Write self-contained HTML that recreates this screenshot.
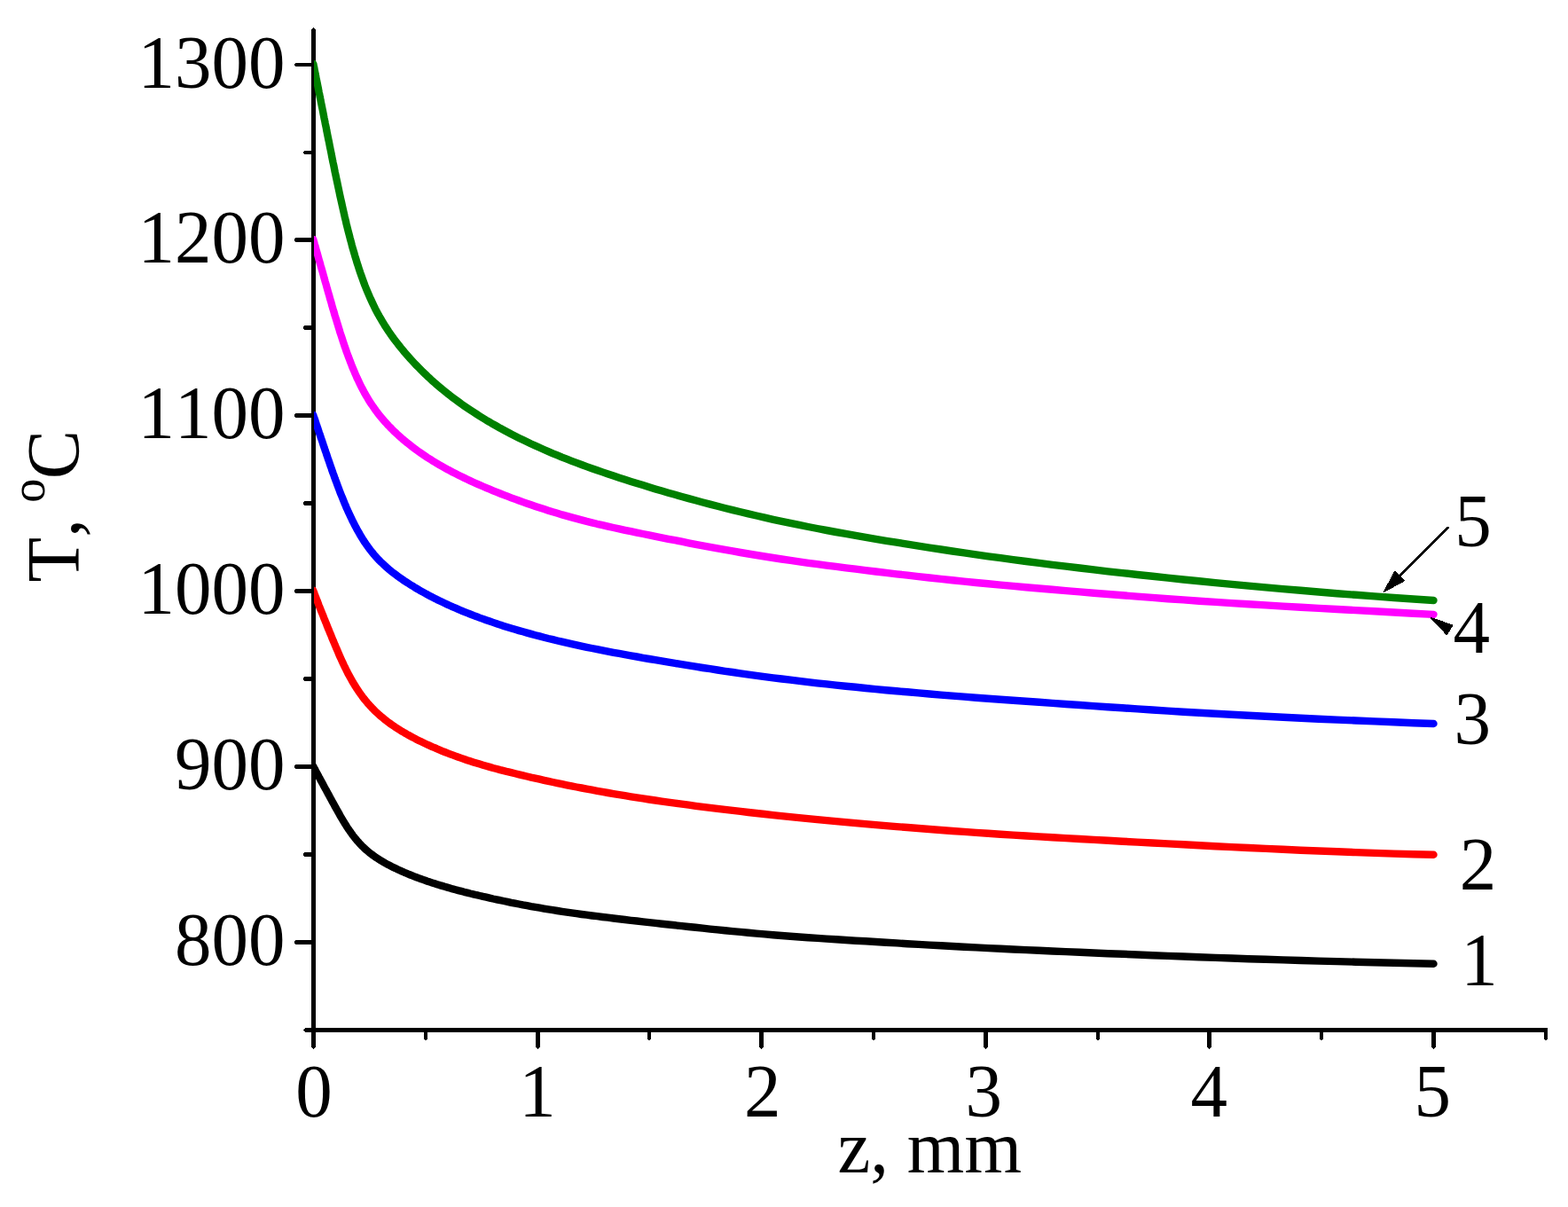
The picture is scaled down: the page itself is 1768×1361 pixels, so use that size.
<!DOCTYPE html>
<html lang="en"><head><meta charset="utf-8"><title>T(z) temperature profiles</title>
<style>
html,body{margin:0;padding:0;background:#fff;}
body{width:1768px;height:1361px;overflow:hidden;}
svg{display:block;}
text{font-family:"Liberation Serif","Times New Roman",serif;font-size:83px;fill:#000;font-kerning:none;font-variant-ligatures:none;}
</style></head><body>
<svg width="1768" height="1361" viewBox="0 0 1768 1361">
<rect width="1768" height="1361" fill="#fff"/>
<defs><clipPath id="plot"><rect x="354" y="0" width="1768" height="1361"/></clipPath></defs>

<g fill="#000" shape-rendering="crispEdges">
<polygon points="351,33.5 353.5,31 356,33.5 356,1181 353.5,1183.2 351,1181"/>
<polygon points="344,1159 1745,1159 1745,1164 344,1164 341.8,1161.5"/>
<polygon points="351,1060 333.5,1060 331.8,1062.5 333.5,1065 351,1065"/>
<polygon points="351,961 343.5,961 341.8,963.5 343.5,966 351,966"/>
<polygon points="351,862 333.5,862 331.8,864.5 333.5,867 351,867"/>
<polygon points="351,763 343.5,763 341.8,765.5 343.5,768 351,768"/>
<polygon points="351,664 333.5,664 331.8,666.5 333.5,669 351,669"/>
<polygon points="351,565 343.5,565 341.8,567.5 343.5,570 351,570"/>
<polygon points="351,466 333.5,466 331.8,468.5 333.5,471 351,471"/>
<polygon points="351,367 343.5,367 341.8,369.5 343.5,372 351,372"/>
<polygon points="351,268 333.5,268 331.8,270.5 333.5,273 351,273"/>
<polygon points="351,170 343.5,170 341.8,172.0 343.5,174 351,174"/>
<polygon points="351,71 333.5,71 331.8,73.0 333.5,75 351,75"/>
<polygon points="478,1164 482,1164 482,1172 480,1173.2 478,1172"/>
<polygon points="604,1164 609,1164 609,1181 606.5,1183.2 604,1181"/>
<polygon points="730,1164 734,1164 734,1172 732,1173.2 730,1172"/>
<polygon points="856,1164 861,1164 861,1181 858.5,1183.2 856,1181"/>
<polygon points="983,1164 987,1164 987,1172 985,1173.2 983,1172"/>
<polygon points="1109,1164 1114,1164 1114,1181 1111.5,1183.2 1109,1181"/>
<polygon points="1236,1164 1240,1164 1240,1172 1238,1173.2 1236,1172"/>
<polygon points="1361,1164 1366,1164 1366,1181 1363.5,1183.2 1361,1181"/>
<polygon points="1488,1164 1492,1164 1492,1172 1490,1173.2 1488,1172"/>
<polygon points="1614,1164 1619,1164 1619,1181 1616.5,1183.2 1614,1181"/>
<polygon points="1741,1164 1745,1164 1745,1172 1743,1173.2 1741,1172"/>
</g>
<g fill="none" stroke-width="8.4" stroke-linecap="round" stroke-linejoin="round" clip-path="url(#plot)">
<path stroke="#000000" d="M352.97,863.60 L353.5,864.6 L353.8,865.2 L354.2,865.8 L354.5,866.5 L354.8,867.1 L355.2,867.7 L355.5,868.4 L355.9,869.1 L356.2,869.8 L356.6,870.5 L357.0,871.2 L357.4,871.9 L357.8,872.6 L358.2,873.3 L358.6,874.1 L359.0,874.9 L359.4,875.6 L359.8,876.4 L360.3,877.2 L360.7,878.1 L361.2,878.9 L361.6,879.8 L362.1,880.6 L362.6,881.5 L363.1,882.4 L363.6,883.3 L364.1,884.2 L364.6,885.2 L365.1,886.1 L365.6,887.1 L366.2,888.1 L366.7,889.1 L367.3,890.1 L367.9,891.2 L368.4,892.2 L369.0,893.3 L369.6,894.4 L370.2,895.6 L370.9,896.7 L371.5,897.9 L372.1,899.0 L372.8,900.3 L373.5,901.5 L374.1,902.7 L374.8,904.0 L375.5,905.3 L376.3,906.6 L377.0,907.9 L377.7,909.3 L378.5,910.7 L379.3,912.1 L380.1,913.5 L380.9,914.9 L381.7,916.3 L382.5,917.8 L383.3,919.3 L384.2,920.8 L385.1,922.3 L386.0,923.8 L386.9,925.3 L387.8,926.8 L388.7,928.4 L389.7,929.9 L390.6,931.4 L391.6,933.0 L392.6,934.5 L393.7,936.0 L394.7,937.5 L395.8,939.0 L396.8,940.5 L397.9,942.0 L399.1,943.5 L400.2,944.9 L401.4,946.3 L402.5,947.8 L403.8,949.1 L405.0,950.5 L406.2,951.8 L407.5,953.2 L408.8,954.5 L410.1,955.7 L411.4,957.0 L412.8,958.2 L414.2,959.4 L415.6,960.6 L417.0,961.8 L418.5,962.9 L420.0,964.0 L421.5,965.1 L423.0,966.2 L424.6,967.3 L426.2,968.3 L427.8,969.4 L429.5,970.4 L431.2,971.4 L432.9,972.4 L434.6,973.4 L436.4,974.4 L438.2,975.3 L440.1,976.3 L441.9,977.2 L443.8,978.2 L445.8,979.1 L447.8,980.1 L449.8,981.0 L451.8,981.9 L453.9,982.8 L456.0,983.8 L458.2,984.7 L460.4,985.6 L462.6,986.5 L464.9,987.4 L467.2,988.3 L469.6,989.2 L472.0,990.1 L474.4,991.0 L476.9,991.9 L479.5,992.8 L482.0,993.7 L484.7,994.6 L487.3,995.4 L490.1,996.3 L492.8,997.2 L495.7,998.1 L498.5,998.9 L501.5,999.8 L504.4,1000.6 L507.5,1001.5 L510.5,1002.4 L513.7,1003.2 L516.9,1004.1 L520.1,1004.9 L523.4,1005.8 L526.8,1006.6 L530.2,1007.5 L533.7,1008.3 L537.3,1009.2 L540.9,1010.0 L544.6,1010.9 L548.3,1011.7 L552.2,1012.6 L556.0,1013.5 L560.0,1014.3 L564.0,1015.2 L568.1,1016.0 L572.3,1016.9 L576.5,1017.8 L580.9,1018.6 L585.3,1019.5 L589.7,1020.4 L594.3,1021.2 L598.9,1022.1 L603.7,1022.9 L608.5,1023.7 L613.4,1024.6 L618.3,1025.4 L623.4,1026.2 L628.6,1027.0 L633.8,1027.8 L639.2,1028.6 L644.6,1029.4 L650.2,1030.2 L655.8,1031.0 L661.5,1031.7 L667.4,1032.5 L673.3,1033.2 L679.4,1034.0 L685.6,1034.7 L691.8,1035.5 L698.2,1036.2 L704.7,1037.0 L711.4,1037.8 L718.1,1038.5 L725.0,1039.3 L731.9,1040.1 L739.0,1040.9 L746.3,1041.7 L753.6,1042.5 L761.1,1043.3 L768.8,1044.2 L776.5,1045.0 L784.4,1045.8 L792.5,1046.7 L800.7,1047.6 L809.0,1048.4 L817.5,1049.3 L826.2,1050.1 L835.0,1050.9 L843.9,1051.8 L853.0,1052.6 L862.3,1053.4 L871.8,1054.2 L881.4,1055.0 L891.2,1055.7 L901.1,1056.5 L911.3,1057.2 L921.6,1057.9 L932.1,1058.6 L942.8,1059.3 L953.7,1060.0 L964.8,1060.7 L976.1,1061.3 L987.5,1062.0 L999.2,1062.7 L1011.1,1063.4 L1023.2,1064.2 L1035.6,1064.9 L1048.1,1065.6 L1060.9,1066.3 L1073.9,1067.0 L1087.1,1067.7 L1100.6,1068.4 L1114.3,1069.1 L1128.3,1069.8 L1142.5,1070.5 L1157.0,1071.1 L1171.7,1071.8 L1186.7,1072.5 L1202.0,1073.1 L1217.5,1073.8 L1233.3,1074.5 L1249.4,1075.2 L1265.8,1075.8 L1282.5,1076.5 L1299.5,1077.2 L1316.8,1077.9 L1334.3,1078.5 L1352.3,1079.2 L1370.5,1079.9 L1389.0,1080.5 L1407.9,1081.2 L1427.2,1081.8 L1446.7,1082.4 L1466.7,1083.0 L1486.9,1083.6 L1507.6,1084.1 L1528.6,1084.7 L1550.0,1085.2 L1571.8,1085.7 L1593.9,1086.2 L1616.5,1086.8"/>
<path stroke="#ff0000" d="M353.12,665.70 L353.5,666.7 L353.8,667.6 L354.2,668.4 L354.5,669.3 L354.8,670.2 L355.2,671.1 L355.5,672.0 L355.9,673.0 L356.2,673.9 L356.6,674.9 L357.0,675.9 L357.4,676.8 L357.8,677.9 L358.2,678.9 L358.6,679.9 L359.0,681.0 L359.4,682.1 L359.8,683.2 L360.3,684.3 L360.7,685.4 L361.2,686.5 L361.6,687.7 L362.1,688.9 L362.6,690.1 L363.1,691.3 L363.6,692.5 L364.1,693.8 L364.6,695.1 L365.1,696.4 L365.6,697.7 L366.2,699.0 L366.7,700.4 L367.3,701.8 L367.9,703.2 L368.4,704.6 L369.0,706.1 L369.6,707.6 L370.2,709.1 L370.9,710.6 L371.5,712.2 L372.1,713.7 L372.8,715.3 L373.5,717.0 L374.1,718.6 L374.8,720.3 L375.5,722.0 L376.3,723.8 L377.0,725.5 L377.7,727.3 L378.5,729.1 L379.3,731.0 L380.1,732.8 L380.9,734.7 L381.7,736.6 L382.5,738.5 L383.3,740.4 L384.2,742.3 L385.1,744.2 L386.0,746.2 L386.9,748.1 L387.8,750.1 L388.7,752.0 L389.7,753.9 L390.6,755.9 L391.6,757.8 L392.6,759.8 L393.7,761.7 L394.7,763.6 L395.8,765.5 L396.8,767.4 L397.9,769.3 L399.1,771.2 L400.2,773.1 L401.4,774.9 L402.5,776.7 L403.8,778.6 L405.0,780.4 L406.2,782.1 L407.5,783.9 L408.8,785.7 L410.1,787.4 L411.4,789.1 L412.8,790.7 L414.2,792.4 L415.6,794.0 L417.0,795.6 L418.5,797.2 L420.0,798.8 L421.5,800.3 L423.0,801.9 L424.6,803.3 L426.2,804.8 L427.8,806.3 L429.5,807.7 L431.2,809.1 L432.9,810.5 L434.6,811.9 L436.4,813.3 L438.2,814.6 L440.1,816.0 L441.9,817.3 L443.8,818.6 L445.8,819.9 L447.8,821.2 L449.8,822.5 L451.8,823.8 L453.9,825.0 L456.0,826.3 L458.2,827.5 L460.4,828.8 L462.6,830.0 L464.9,831.2 L467.2,832.4 L469.6,833.7 L472.0,834.9 L474.4,836.1 L476.9,837.3 L479.5,838.5 L482.0,839.7 L484.7,840.9 L487.3,842.1 L490.1,843.2 L492.8,844.4 L495.7,845.6 L498.5,846.8 L501.5,848.0 L504.4,849.1 L507.5,850.3 L510.5,851.4 L513.7,852.6 L516.9,853.8 L520.1,854.9 L523.4,856.0 L526.8,857.2 L530.2,858.3 L533.7,859.4 L537.3,860.5 L540.9,861.6 L544.6,862.7 L548.3,863.8 L552.2,864.9 L556.0,866.0 L560.0,867.0 L564.0,868.1 L568.1,869.1 L572.3,870.2 L576.5,871.2 L580.9,872.3 L585.3,873.4 L589.7,874.4 L594.3,875.5 L598.9,876.6 L603.7,877.6 L608.5,878.7 L613.4,879.8 L618.3,880.9 L623.4,882.0 L628.6,883.1 L633.8,884.2 L639.2,885.3 L644.6,886.4 L650.2,887.5 L655.8,888.5 L661.5,889.6 L667.4,890.7 L673.3,891.8 L679.4,892.9 L685.6,894.0 L691.8,895.1 L698.2,896.1 L704.7,897.2 L711.4,898.3 L718.1,899.4 L725.0,900.4 L731.9,901.5 L739.0,902.5 L746.3,903.6 L753.6,904.6 L761.1,905.7 L768.8,906.7 L776.5,907.7 L784.4,908.8 L792.5,909.8 L800.7,910.8 L809.0,911.9 L817.5,912.9 L826.2,913.9 L835.0,914.9 L843.9,916.0 L853.0,917.0 L862.3,918.0 L871.8,919.1 L881.4,920.1 L891.2,921.1 L901.1,922.1 L911.3,923.1 L921.6,924.1 L932.1,925.1 L942.8,926.1 L953.7,927.1 L964.8,928.1 L976.1,929.1 L987.5,930.1 L999.2,931.1 L1011.1,932.1 L1023.2,933.0 L1035.6,934.0 L1048.1,935.0 L1060.9,936.0 L1073.9,937.0 L1087.1,937.9 L1100.6,938.9 L1114.3,939.8 L1128.3,940.7 L1142.5,941.6 L1157.0,942.5 L1171.7,943.4 L1186.7,944.3 L1202.0,945.1 L1217.5,946.0 L1233.3,946.9 L1249.4,947.8 L1265.8,948.7 L1282.5,949.6 L1299.5,950.5 L1316.8,951.4 L1334.3,952.3 L1352.3,953.2 L1370.5,954.2 L1389.0,955.1 L1407.9,956.0 L1427.2,956.9 L1446.7,957.8 L1466.7,958.7 L1486.9,959.5 L1507.6,960.3 L1528.6,961.1 L1550.0,961.9 L1571.8,962.6 L1593.9,963.2 L1616.5,963.8"/>
<path stroke="#0000ff" d="M353.16,467.79 L353.5,468.8 L353.8,469.7 L354.2,470.7 L354.5,471.7 L354.8,472.7 L355.2,473.8 L355.5,474.8 L355.9,475.9 L356.2,476.9 L356.6,478.0 L357.0,479.2 L357.4,480.3 L357.8,481.5 L358.2,482.7 L358.6,483.9 L359.0,485.1 L359.4,486.3 L359.8,487.6 L360.3,488.9 L360.7,490.2 L361.2,491.6 L361.6,492.9 L362.1,494.3 L362.6,495.7 L363.1,497.2 L363.6,498.6 L364.1,500.1 L364.6,501.7 L365.1,503.2 L365.6,504.8 L366.2,506.4 L366.7,508.0 L367.3,509.6 L367.9,511.3 L368.4,513.0 L369.0,514.7 L369.6,516.5 L370.2,518.3 L370.9,520.1 L371.5,521.9 L372.1,523.8 L372.8,525.7 L373.5,527.6 L374.1,529.5 L374.8,531.5 L375.5,533.5 L376.3,535.5 L377.0,537.6 L377.7,539.6 L378.5,541.7 L379.3,543.8 L380.1,545.9 L380.9,548.1 L381.7,550.2 L382.5,552.4 L383.3,554.6 L384.2,556.8 L385.1,559.0 L386.0,561.2 L386.9,563.4 L387.8,565.6 L388.7,567.9 L389.7,570.1 L390.6,572.4 L391.6,574.6 L392.6,576.9 L393.7,579.1 L394.7,581.4 L395.8,583.6 L396.8,585.8 L397.9,588.1 L399.1,590.3 L400.2,592.5 L401.4,594.7 L402.5,596.9 L403.8,599.1 L405.0,601.2 L406.2,603.4 L407.5,605.5 L408.8,607.6 L410.1,609.6 L411.4,611.7 L412.8,613.7 L414.2,615.6 L415.6,617.6 L417.0,619.5 L418.5,621.4 L420.0,623.2 L421.5,625.1 L423.0,626.9 L424.6,628.6 L426.2,630.3 L427.8,632.0 L429.5,633.7 L431.2,635.3 L432.9,636.9 L434.6,638.5 L436.4,640.1 L438.2,641.7 L440.1,643.2 L441.9,644.7 L443.8,646.2 L445.8,647.7 L447.8,649.2 L449.8,650.6 L451.8,652.1 L453.9,653.5 L456.0,655.0 L458.2,656.4 L460.4,657.8 L462.6,659.2 L464.9,660.6 L467.2,662.1 L469.6,663.5 L472.0,664.9 L474.4,666.3 L476.9,667.7 L479.5,669.1 L482.0,670.5 L484.7,671.9 L487.3,673.3 L490.1,674.7 L492.8,676.1 L495.7,677.5 L498.5,678.8 L501.5,680.2 L504.4,681.6 L507.5,683.0 L510.5,684.4 L513.7,685.7 L516.9,687.1 L520.1,688.5 L523.4,689.8 L526.8,691.2 L530.2,692.5 L533.7,693.9 L537.3,695.2 L540.9,696.6 L544.6,697.9 L548.3,699.3 L552.2,700.6 L556.0,701.9 L560.0,703.2 L564.0,704.6 L568.1,705.9 L572.3,707.2 L576.5,708.5 L580.9,709.8 L585.3,711.1 L589.7,712.3 L594.3,713.6 L598.9,714.9 L603.7,716.2 L608.5,717.4 L613.4,718.7 L618.3,720.0 L623.4,721.2 L628.6,722.5 L633.8,723.7 L639.2,724.9 L644.6,726.1 L650.2,727.4 L655.8,728.6 L661.5,729.8 L667.4,731.0 L673.3,732.2 L679.4,733.4 L685.6,734.6 L691.8,735.8 L698.2,736.9 L704.7,738.1 L711.4,739.3 L718.1,740.5 L725.0,741.8 L731.9,743.0 L739.0,744.2 L746.3,745.4 L753.6,746.7 L761.1,747.9 L768.8,749.2 L776.5,750.4 L784.4,751.7 L792.5,753.0 L800.7,754.2 L809.0,755.5 L817.5,756.8 L826.2,758.0 L835.0,759.3 L843.9,760.6 L853.0,761.8 L862.3,763.1 L871.8,764.3 L881.4,765.5 L891.2,766.7 L901.1,767.9 L911.3,769.1 L921.6,770.3 L932.1,771.4 L942.8,772.6 L953.7,773.7 L964.8,774.8 L976.1,776.0 L987.5,777.1 L999.2,778.2 L1011.1,779.3 L1023.2,780.3 L1035.6,781.4 L1048.1,782.5 L1060.9,783.6 L1073.9,784.6 L1087.1,785.6 L1100.6,786.7 L1114.3,787.7 L1128.3,788.7 L1142.5,789.8 L1157.0,790.8 L1171.7,791.8 L1186.7,792.9 L1202.0,794.0 L1217.5,795.0 L1233.3,796.1 L1249.4,797.2 L1265.8,798.3 L1282.5,799.4 L1299.5,800.5 L1316.8,801.6 L1334.3,802.7 L1352.3,803.7 L1370.5,804.8 L1389.0,805.8 L1407.9,806.8 L1427.2,807.8 L1446.7,808.8 L1466.7,809.7 L1486.9,810.7 L1507.6,811.6 L1528.6,812.5 L1550.0,813.4 L1571.8,814.3 L1593.9,815.2 L1616.5,816.0"/>
<path stroke="#ff00ff" d="M353.22,269.87 L353.5,270.9 L353.8,272.0 L354.2,273.2 L354.5,274.4 L354.8,275.6 L355.2,276.8 L355.5,278.0 L355.9,279.3 L356.2,280.6 L356.6,281.9 L357.0,283.2 L357.4,284.6 L357.8,286.0 L358.2,287.4 L358.6,288.8 L359.0,290.3 L359.4,291.8 L359.8,293.3 L360.3,294.8 L360.7,296.4 L361.2,298.0 L361.6,299.6 L362.1,301.3 L362.6,303.0 L363.1,304.7 L363.6,306.4 L364.1,308.2 L364.6,310.0 L365.1,311.9 L365.6,313.8 L366.2,315.7 L366.7,317.6 L367.3,319.6 L367.9,321.6 L368.4,323.6 L369.0,325.7 L369.6,327.8 L370.2,330.0 L370.9,332.2 L371.5,334.4 L372.1,336.7 L372.8,339.0 L373.5,341.3 L374.1,343.7 L374.8,346.1 L375.5,348.5 L376.3,351.0 L377.0,353.5 L377.7,356.0 L378.5,358.5 L379.3,361.1 L380.1,363.7 L380.9,366.3 L381.7,369.0 L382.5,371.6 L383.3,374.3 L384.2,377.0 L385.1,379.7 L386.0,382.4 L386.9,385.2 L387.8,387.9 L388.7,390.7 L389.7,393.4 L390.6,396.2 L391.6,398.9 L392.6,401.7 L393.7,404.4 L394.7,407.2 L395.8,409.9 L396.8,412.6 L397.9,415.3 L399.1,418.0 L400.2,420.7 L401.4,423.4 L402.5,426.0 L403.8,428.6 L405.0,431.2 L406.2,433.7 L407.5,436.3 L408.8,438.8 L410.1,441.2 L411.4,443.7 L412.8,446.1 L414.2,448.4 L415.6,450.8 L417.0,453.1 L418.5,455.3 L420.0,457.5 L421.5,459.7 L423.0,461.9 L424.6,464.0 L426.2,466.1 L427.8,468.2 L429.5,470.2 L431.2,472.2 L432.9,474.2 L434.6,476.2 L436.4,478.1 L438.2,480.1 L440.1,482.0 L441.9,483.9 L443.8,485.8 L445.8,487.6 L447.8,489.5 L449.8,491.3 L451.8,493.1 L453.9,495.0 L456.0,496.8 L458.2,498.6 L460.4,500.3 L462.6,502.1 L464.9,503.9 L467.2,505.6 L469.6,507.4 L472.0,509.1 L474.4,510.8 L476.9,512.5 L479.5,514.3 L482.0,516.0 L484.7,517.6 L487.3,519.3 L490.1,521.0 L492.8,522.6 L495.7,524.3 L498.5,525.9 L501.5,527.6 L504.4,529.2 L507.5,530.8 L510.5,532.5 L513.7,534.1 L516.9,535.7 L520.1,537.3 L523.4,538.9 L526.8,540.5 L530.2,542.1 L533.7,543.7 L537.3,545.3 L540.9,546.9 L544.6,548.5 L548.3,550.1 L552.2,551.7 L556.0,553.3 L560.0,554.9 L564.0,556.5 L568.1,558.1 L572.3,559.7 L576.5,561.3 L580.9,562.9 L585.3,564.5 L589.7,566.1 L594.3,567.7 L598.9,569.3 L603.7,570.9 L608.5,572.5 L613.4,574.1 L618.3,575.7 L623.4,577.3 L628.6,578.8 L633.8,580.4 L639.2,581.9 L644.6,583.4 L650.2,584.9 L655.8,586.4 L661.5,587.9 L667.4,589.3 L673.3,590.8 L679.4,592.2 L685.6,593.6 L691.8,595.0 L698.2,596.4 L704.7,597.8 L711.4,599.2 L718.1,600.6 L725.0,602.0 L731.9,603.4 L739.0,604.9 L746.3,606.3 L753.6,607.8 L761.1,609.2 L768.8,610.7 L776.5,612.3 L784.4,613.8 L792.5,615.3 L800.7,616.8 L809.0,618.4 L817.5,619.9 L826.2,621.4 L835.0,623.0 L843.9,624.5 L853.0,626.0 L862.3,627.5 L871.8,629.0 L881.4,630.5 L891.2,631.9 L901.1,633.3 L911.3,634.8 L921.6,636.2 L932.1,637.6 L942.8,638.9 L953.7,640.3 L964.8,641.7 L976.1,643.1 L987.5,644.5 L999.2,645.9 L1011.1,647.3 L1023.2,648.7 L1035.6,650.1 L1048.1,651.5 L1060.9,652.9 L1073.9,654.3 L1087.1,655.6 L1100.6,657.0 L1114.3,658.3 L1128.3,659.6 L1142.5,660.9 L1157.0,662.2 L1171.7,663.5 L1186.7,664.8 L1202.0,666.1 L1217.5,667.4 L1233.3,668.7 L1249.4,670.0 L1265.8,671.3 L1282.5,672.6 L1299.5,673.9 L1316.8,675.2 L1334.3,676.4 L1352.3,677.7 L1370.5,678.9 L1389.0,680.1 L1407.9,681.3 L1427.2,682.4 L1446.7,683.6 L1466.7,684.7 L1486.9,685.9 L1507.6,687.0 L1528.6,688.1 L1550.0,689.3 L1571.8,690.5 L1593.9,691.7 L1616.5,692.9"/>
<path stroke="#008000" d="M353.30,71.85 L353.5,72.9 L353.8,74.5 L354.2,76.1 L354.5,77.8 L354.8,79.5 L355.2,81.2 L355.5,83.0 L355.9,84.8 L356.2,86.6 L356.6,88.5 L357.0,90.4 L357.4,92.3 L357.8,94.3 L358.2,96.3 L358.6,98.3 L359.0,100.4 L359.4,102.5 L359.8,104.6 L360.3,106.8 L360.7,109.1 L361.2,111.3 L361.6,113.6 L362.1,116.0 L362.6,118.4 L363.1,120.8 L363.6,123.3 L364.1,125.8 L364.6,128.4 L365.1,131.0 L365.6,133.6 L366.2,136.3 L366.7,139.1 L367.3,141.9 L367.9,144.7 L368.4,147.7 L369.0,150.6 L369.6,153.6 L370.2,156.7 L370.9,159.8 L371.5,163.0 L372.1,166.2 L372.8,169.5 L373.5,172.8 L374.1,176.2 L374.8,179.6 L375.5,183.1 L376.3,186.6 L377.0,190.2 L377.7,193.9 L378.5,197.5 L379.3,201.3 L380.1,205.0 L380.9,208.8 L381.7,212.7 L382.5,216.5 L383.3,220.4 L384.2,224.4 L385.1,228.3 L386.0,232.3 L386.9,236.3 L387.8,240.3 L388.7,244.4 L389.7,248.4 L390.6,252.5 L391.6,256.5 L392.6,260.5 L393.7,264.6 L394.7,268.6 L395.8,272.6 L396.8,276.6 L397.9,280.6 L399.1,284.5 L400.2,288.4 L401.4,292.3 L402.5,296.1 L403.8,299.9 L405.0,303.7 L406.2,307.4 L407.5,311.0 L408.8,314.6 L410.1,318.2 L411.4,321.7 L412.8,325.2 L414.2,328.6 L415.6,331.9 L417.0,335.2 L418.5,338.4 L420.0,341.6 L421.5,344.8 L423.0,347.9 L424.6,350.9 L426.2,353.9 L427.8,356.8 L429.5,359.7 L431.2,362.6 L432.9,365.4 L434.6,368.2 L436.4,370.9 L438.2,373.6 L440.1,376.3 L441.9,379.0 L443.8,381.6 L445.8,384.2 L447.8,386.8 L449.8,389.4 L451.8,391.9 L453.9,394.4 L456.0,397.0 L458.2,399.5 L460.4,402.0 L462.6,404.5 L464.9,407.0 L467.2,409.5 L469.6,412.0 L472.0,414.4 L474.4,416.9 L476.9,419.4 L479.5,421.8 L482.0,424.3 L484.7,426.7 L487.3,429.2 L490.1,431.6 L492.8,434.0 L495.7,436.4 L498.5,438.8 L501.5,441.2 L504.4,443.6 L507.5,446.0 L510.5,448.3 L513.7,450.7 L516.9,453.0 L520.1,455.4 L523.4,457.7 L526.8,460.0 L530.2,462.3 L533.7,464.6 L537.3,466.9 L540.9,469.2 L544.6,471.5 L548.3,473.8 L552.2,476.0 L556.0,478.3 L560.0,480.5 L564.0,482.8 L568.1,485.0 L572.3,487.2 L576.5,489.5 L580.9,491.7 L585.3,493.9 L589.7,496.1 L594.3,498.3 L598.9,500.5 L603.7,502.6 L608.5,504.8 L613.4,507.0 L618.3,509.1 L623.4,511.3 L628.6,513.4 L633.8,515.6 L639.2,517.7 L644.6,519.8 L650.2,521.9 L655.8,524.0 L661.5,526.1 L667.4,528.2 L673.3,530.3 L679.4,532.4 L685.6,534.5 L691.8,536.6 L698.2,538.7 L704.7,540.8 L711.4,542.9 L718.1,545.0 L725.0,547.1 L731.9,549.2 L739.0,551.4 L746.3,553.5 L753.6,555.7 L761.1,557.8 L768.8,560.0 L776.5,562.1 L784.4,564.3 L792.5,566.5 L800.7,568.6 L809.0,570.8 L817.5,573.0 L826.2,575.1 L835.0,577.3 L843.9,579.4 L853.0,581.5 L862.3,583.7 L871.8,585.8 L881.4,587.8 L891.2,589.9 L901.1,591.9 L911.3,594.0 L921.6,596.0 L932.1,598.0 L942.8,600.0 L953.7,601.9 L964.8,603.9 L976.1,605.9 L987.5,607.8 L999.2,609.8 L1011.1,611.7 L1023.2,613.7 L1035.6,615.6 L1048.1,617.6 L1060.9,619.5 L1073.9,621.5 L1087.1,623.4 L1100.6,625.3 L1114.3,627.3 L1128.3,629.2 L1142.5,631.1 L1157.0,633.0 L1171.7,634.9 L1186.7,636.8 L1202.0,638.7 L1217.5,640.5 L1233.3,642.4 L1249.4,644.3 L1265.8,646.1 L1282.5,648.0 L1299.5,649.8 L1316.8,651.7 L1334.3,653.5 L1352.3,655.3 L1370.5,657.1 L1389.0,658.9 L1407.9,660.6 L1427.2,662.4 L1446.7,664.1 L1466.7,665.8 L1486.9,667.5 L1507.6,669.2 L1528.6,670.8 L1550.0,672.4 L1571.8,674.0 L1593.9,675.5 L1616.5,677.0"/>
</g>
<g fill="#000" stroke="#000" shape-rendering="crispEdges">
<line x1="1633.5" y1="594.3" x2="1575" y2="652.7" stroke-width="2.5"/>
<polygon points="1560.6,667.2 1572.8,644.4 1583.2,654.8" stroke-width="1.4" stroke-linejoin="round"/>
<polygon points="1613.6,696.6 1637.8,705.2 1631.2,715.4" stroke-width="1.4" stroke-linejoin="round"/>
</g>
<text transform="translate(321.50,98.50) scale(1,1.024)" text-anchor="end">1300</text>
<text transform="translate(321.50,296.40) scale(1,1.024)" text-anchor="end">1200</text>
<text transform="translate(321.50,494.30) scale(1,1.024)" text-anchor="end">1100</text>
<text transform="translate(321.50,692.20) scale(1,1.024)" text-anchor="end">1000</text>
<text transform="translate(321.50,890.10) scale(1,1.024)" text-anchor="end">900</text>
<text transform="translate(321.50,1088.00) scale(1,1.024)" text-anchor="end">800</text>
<text transform="translate(353.90,1258.50) scale(1,1.024)" text-anchor="middle">0</text>
<text transform="translate(606.10,1258.50) scale(1,1.024)" text-anchor="middle">1</text>
<text transform="translate(859.70,1258.50) scale(1,1.024)" text-anchor="middle">2</text>
<text transform="translate(1109.30,1258.50) scale(1,1.024)" text-anchor="middle">3</text>
<text transform="translate(1363.30,1258.50) scale(1,1.024)" text-anchor="middle">4</text>
<text transform="translate(1615.20,1258.50) scale(1,1.024)" text-anchor="middle">5</text>
<text transform="translate(944.50,1321.70) scale(1,1.024)" text-anchor="start">z, mm</text>
<text transform="translate(88.90,656.50) rotate(-90) scale(1,1.024)" text-anchor="start">T,<tspan dx="-2.5"> </tspan><tspan font-size="54" dy="-37.7">o</tspan><tspan dy="37.7" dx="-0.5">C</tspan></text>
<text transform="translate(1647.20,1111.30) scale(1,1.024)" text-anchor="start">1</text>
<text transform="translate(1645.70,1002.90) scale(1,1.024)" text-anchor="start">2</text>
<text transform="translate(1639.50,839.00) scale(1,1.024)" text-anchor="start">3</text>
<text transform="translate(1638.50,735.70) scale(1,1.024)" text-anchor="start">4</text>
<text transform="translate(1640.30,616.00) scale(1,1.024)" text-anchor="start">5</text>
</svg>
</body></html>
